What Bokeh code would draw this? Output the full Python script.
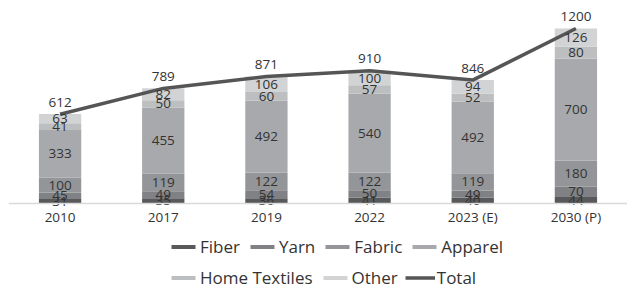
from bokeh.plotting import figure
from bokeh.models import ColumnDataSource, Legend, LegendItem, Range1d, Span
from bokeh.core.properties import value
from bokeh.embed import file_html
from bokeh.resources import INLINE

years = ["2010", "2017", "2019", "2022", "2023 (E)", "2030 (P)"]
fiber = [31, 35, 36, 41, 40, 44]
yarn = [45, 49, 54, 50, 49, 70]
fabric = [100, 119, 122, 122, 119, 180]
apparel = [333, 455, 492, 540, 492, 700]
home_textiles = [41, 50, 60, 57, 52, 80]
other = [63, 82, 106, 100, 94, 126]
total = [612, 789, 871, 910, 846, 1200]

series_names = ["Fiber", "Yarn", "Fabric", "Apparel", "Home Textiles", "Other"]
series_vals = [fiber, yarn, fabric, apparel, home_textiles, other]
colors = ["#58595b", "#808184", "#939598", "#a7a9ac", "#bcbec0", "#d1d3d4"]
FONT = "Open Sans"
TXT = "#333333"

p = figure(x_range=years, width=627, height=290, output_backend="svg",
           toolbar_location=None, x_axis_location=None, y_axis_location=None,
           min_border_left=8, min_border_right=0, min_border_top=0, min_border_bottom=0)
# baseline (0) sits 203px from top of the frame
p.y_range = Range1d(-597, 1392)
p.x_range.range_padding = 0
p.outline_line_color = None
p.grid.grid_line_color = None

data = {"x": years, "total": total, "total_label": [str(t) for t in total],
        "zero": [0] * len(years)}
for n, v in zip(series_names, series_vals):
    data[n] = v
src = ColumnDataSource(data)

# baseline (category axis line)
p.add_layout(Span(location=0, dimension="width", line_color="#d9d9d9", line_width=1.5))

renderers = p.vbar_stack(series_names, x="x", width=0.41, color=colors,
                         line_color=None, source=src)

# segment labels
bottoms = [0] * len(years)
lx, ly, lt = [], [], []
for v in series_vals:
    for i, val in enumerate(v):
        lx.append(years[i])
        ly.append(bottoms[i] + val / 2)
        lt.append(str(val))
        bottoms[i] += val

line_r = p.line(x="x", y="total", source=src, line_color="#555555", line_width=3.5)

lsrc = ColumnDataSource(dict(x=lx, y=ly, t=lt))
p.text(x="x", y="y", text="t", source=lsrc, text_align="center",
       text_baseline="middle", text_font=value(FONT), text_font_size="13.5px",
       text_color=TXT)
p.text(x="x", y="total", text="total_label", source=src,
       text_align="center", text_baseline="middle", y_offset=-12,
       text_font=value(FONT), text_font_size="13.5px", text_color=TXT)
# category tick labels
p.text(x="x", y="zero", text="x", source=src, text_align="center",
       text_baseline="middle", y_offset=14, text_font=value(FONT),
       text_font_size="13.5px", text_color=TXT)

def make_legend(items, loc):
    return Legend(items=items, orientation="horizontal", location=loc,
                  border_line_color=None, background_fill_alpha=0,
                  label_text_font=FONT, label_text_font_size="17px",
                  label_text_color=TXT, glyph_width=30, glyph_height=5,
                  label_standoff=2, spacing=7, padding=0, margin=0,
                  label_height=20)

lg1 = make_legend([LegendItem(label=series_names[i], renderers=[renderers[i]]) for i in range(4)],
                  (160, 32))
lg2 = make_legend([LegendItem(label=series_names[i], renderers=[renderers[i]]) for i in range(4, 6)]
                  + [LegendItem(label="Total", renderers=[line_r])], (160, 1))
p.add_layout(lg1)
p.add_layout(lg2)

open("out.html", "w").write(file_html(p, INLINE))
